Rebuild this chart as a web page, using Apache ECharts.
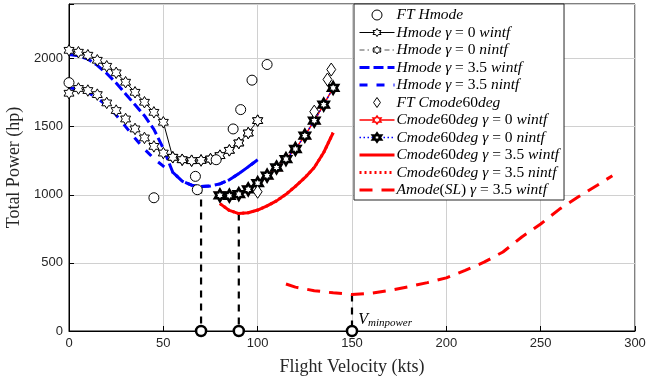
<!DOCTYPE html>
<html>
<head>
<meta charset="utf-8">
<script src="https://cdn.jsdelivr.net/npm/echarts@6/dist/echarts.min.js"></script>
<style>
  html, body { margin: 0; padding: 0; background: #fff; }
  #chart { width: 648px; height: 380px; }
</style>
</head>
<body>
<div id="chart"></div>
<script>
// ---- Flight test / model data (power in hp, speed in kts) ----
const speedH = [0, 5, 10, 15, 20, 25, 30, 35, 40, 45, 50, 55, 60, 65, 70, 75, 80, 85, 90, 95, 100];
const hmodeG0Wintf = [2060, 2046, 2024, 1987, 1943, 1895, 1826, 1752, 1679, 1605, 1532, 1275, 1257, 1250, 1252, 1262, 1287, 1326, 1380, 1453, 1544];
const hmodeG0Nintf = [1745, 1780, 1765, 1735, 1674, 1618, 1556, 1483, 1417, 1355, 1306, 1275, 1257, 1250, 1252, 1262, 1287, 1326, 1380, 1453, 1544];
const hmodeG35Wintf = [2030, 2020, 1995, 1950, 1890, 1820, 1740, 1660, 1580, 1480, 1340, 1165, 1100, 1070, 1060, 1064, 1080, 1110, 1155, 1205, 1257];
const hmodeG35Nintf = [1785, 1775, 1750, 1710, 1655, 1585, 1500, 1415, 1335, 1265, 1210, 1165, 1100, 1070, 1060, 1064, 1080, 1110, 1155, 1205, 1257];

const ftHmodeSpeed = [0, 45, 67, 68, 78, 87, 91, 97, 105];
const ftHmodePower = [1823, 978, 1135, 1037, 1257, 1483, 1625, 1841, 1956];

const ftCmodeSpeed = [100, 130, 137, 139];
const ftCmodePower = [1022, 1610, 1846, 1919];

const speedC = [80, 85, 90, 95, 100, 105, 110, 115, 120, 125, 130, 135, 140];
const cmodeG0 = [995, 993, 1005, 1040, 1085, 1140, 1200, 1262, 1336, 1434, 1544, 1662, 1784];
const cmodeG35 = [935, 885, 862, 868, 888, 918, 955, 1003, 1062, 1125, 1200, 1310, 1455];

const speedA = [115, 120, 130, 140, 150, 160, 170, 180, 190, 200, 210, 220, 230, 240, 250, 260, 270, 280, 288];
const amodeG35 = [345, 322, 296, 280, 268, 277, 298, 325, 355, 390, 445, 505, 580, 690, 785, 895, 985, 1070, 1140];

// minimum-power speeds and the power at those points
const vMinSpeed = [70, 90, 150];
const vMinPower = [1060, 862, 268];

const xTicks = [0, 50, 100, 150, 200, 250, 300];
const yTicks = [0, 500, 1000, 1500, 2000];

// ---- helpers ----
const pairs = (xs, ys) => xs.map((x, i) => [x, ys[i]]);

// six-pointed star outline
const hexagram = (function () {
  const R = 10, r = R / Math.sqrt(3);
  let d = '';
  for (let k = 0; k < 12; k++) {
    const a = (-90 + 30 * k) * Math.PI / 180;
    const rad = k % 2 === 0 ? R : r;
    const x = (rad * Math.cos(a)).toFixed(3), y = (rad * Math.sin(a)).toFixed(3);
    d += (k === 0 ? 'M' : 'L') + x + ' ' + y + ' ';
  }
  return 'path://' + d + 'Z';
})();
// narrow diamond outline
const rhombus = 'path://M0 -7 L4.8 0 L0 7 L-4.8 0 Z';

const SERIF = '"Liberation Serif", "DejaVu Serif", serif';
const SANS = '"Liberation Sans", Arial, sans-serif';

const series = [
  {
    name: 'FT Hmode', type: 'scatter', data: pairs(ftHmodeSpeed, ftHmodePower),
    symbol: 'circle', symbolSize: 10,
    itemStyle: { color: '#fff', borderColor: '#000', borderWidth: 1, opacity: 1 }, z: 5
  },
  {
    name: 'Hmode γ = 0 wintf', type: 'line', data: pairs(speedH, hmodeG0Wintf),
    symbol: hexagram, symbolSize: 11.5, symbolKeepAspect: true, showAllSymbol: true,
    lineStyle: { color: '#000', width: 1, type: 'solid' },
    itemStyle: { color: '#fff', borderColor: '#000', borderWidth: 1 }, z: 4
  },
  {
    name: 'Hmode γ = 0 nintf', type: 'line', data: pairs(speedH, hmodeG0Nintf),
    symbol: hexagram, symbolSize: 11.5, symbolKeepAspect: true, showAllSymbol: true,
    lineStyle: { color: '#555', width: 1, type: [5, 3, 1.5, 3] },
    itemStyle: { color: '#fff', borderColor: '#000', borderWidth: 1 }, z: 4
  },
  {
    name: 'Hmode γ = 3.5 wintf', type: 'line', data: pairs(speedH, hmodeG35Wintf),
    symbol: 'none', lineStyle: { color: '#0000ff', width: 3, type: [10, 4] }, z: 3
  },
  {
    name: 'Hmode γ = 3.5 nintf', type: 'line', data: pairs(speedH, hmodeG35Nintf),
    symbol: 'none', lineStyle: { color: '#0000ff', width: 3, type: [8, 9] }, z: 3
  },
  {
    name: 'FT Cmode60deg', type: 'scatter', data: pairs(ftCmodeSpeed, ftCmodePower),
    symbol: rhombus, symbolSize: 13, symbolKeepAspect: true,
    itemStyle: { color: '#fff', borderColor: '#000', borderWidth: 1, opacity: 1 }, z: 5
  },
  {
    name: 'Cmode60deg γ = 0 wintf', type: 'line', data: pairs(speedC, cmodeG0),
    symbol: hexagram, symbolSize: 11.5, symbolKeepAspect: true, showAllSymbol: true,
    lineStyle: { color: '#ff0000', width: 1.5, type: 'solid' },
    itemStyle: { color: '#fff', borderColor: '#ff0000', borderWidth: 1.5 }, z: 4
  },
  {
    name: 'Cmode60deg γ = 0 nintf', type: 'line', data: pairs(speedC, cmodeG0),
    symbol: hexagram, symbolSize: 11.5, symbolKeepAspect: true, showAllSymbol: true,
    lineStyle: { color: '#0000ff', width: 1.5, type: [1.5, 2.5] },
    itemStyle: { color: '#fff', borderColor: '#000', borderWidth: 2.6 }, z: 4
  },
  {
    name: 'Cmode60deg γ = 3.5 wintf', type: 'line', data: pairs(speedC, cmodeG35),
    symbol: 'none', lineStyle: { color: '#ff0000', width: 3, type: 'solid' }, z: 3
  },
  {
    name: 'Cmode60deg γ = 3.5 nintf', type: 'line', data: pairs(speedC, cmodeG35),
    symbol: 'none', lineStyle: { color: '#ff0000', width: 3, type: [2, 3] }, z: 3
  },
  {
    name: 'Amode(SL) γ = 3.5 wintf', type: 'line', data: pairs(speedA, amodeG35),
    symbol: 'none', lineStyle: { color: '#ff0000', width: 3, type: [13, 9] }, z: 3
  }
];

// legend entries: line-only series get no marker in their key; keys keep the series line weight
const legendData = series.map(s => {
  const item = { name: s.name };
  if (s.lineStyle) item.lineStyle = { width: s.lineStyle.width };
  if (s.symbol === 'none') item.itemStyle = { opacity: 0 };
  else if (s.itemStyle) item.itemStyle = { borderWidth: s.itemStyle.borderWidth };
  return item;
});

// dashed drop lines from each minimum-power point down to the speed axis
vMinSpeed.forEach((v, i) => {
  series.push({
    type: 'line', silent: true, z: 2, symbol: 'none',
    lineStyle: { color: '#000', width: 2.2, type: [7, 6] },
    data: [[v, vMinPower[i]], [v, 0]]
  });
});

// minimum-power speed markers on the speed axis
series.push({
  type: 'scatter', silent: true, clip: false, z: 6,
  symbol: 'circle', symbolSize: 10,
  itemStyle: { color: '#fff', borderColor: '#000', borderWidth: 2.5, opacity: 1 },
  data: vMinSpeed.map((v, i) => ({
    value: [v, 0],
    label: i === vMinSpeed.length - 1 ? {
      show: true, position: 'right', distance: 0, offset: [0, -11],
      formatter: '{v|V}{s|minpower}',
      rich: {
        v: { fontFamily: SERIF, fontStyle: 'italic', fontSize: 16, color: '#000' },
        s: { fontFamily: SERIF, fontStyle: 'italic', fontSize: 11, color: '#000', verticalAlign: 'bottom', padding: [6, 0, 0, 0] }
      }
    } : { show: false }
  }))
});

const chart = echarts.init(document.getElementById('chart'), null, { renderer: 'canvas' });
chart.setOption({
  animation: false,
  backgroundColor: '#fff',
  grid: {
    left: 69, top: 4, right: 13, bottom: 49,
    show: true, borderColor: '#000', borderWidth: 1, backgroundColor: 'transparent',
    containLabel: false, outerBoundsMode: 'none'
  },
  xAxis: {
    type: 'value', min: xTicks[0], max: xTicks[xTicks.length - 1], interval: 50,
    name: 'Flight Velocity (kts)', nameLocation: 'middle', nameGap: 27,
    nameTextStyle: { fontFamily: SERIF, fontSize: 18, color: '#262626' },
    axisLine: { show: true, onZero: false, lineStyle: { color: '#000', width: 1 } },
    axisTick: { show: true, inside: true, length: 5, lineStyle: { color: '#000' } },
    axisLabel: { fontFamily: SANS, fontSize: 13, color: '#262626', margin: 6 },
    splitLine: { show: true, lineStyle: { color: '#d0d0d0', width: 1 } }
  },
  yAxis: {
    type: 'value', min: yTicks[0], max: 2400, interval: 500,
    name: 'Total Power (hp)', nameLocation: 'middle', nameGap: 38,
    nameTextStyle: { fontFamily: SERIF, fontSize: 18, color: '#262626' },
    axisLine: { show: true, lineStyle: { color: '#000', width: 1 } },
    axisTick: { show: true, inside: true, length: 5, lineStyle: { color: '#000' } },
    axisLabel: {
      fontFamily: SANS, fontSize: 13, color: '#262626', margin: 6,
      formatter: v => (yTicks.indexOf(v) >= 0 ? String(v) : '')
    },
    splitLine: { show: true, lineStyle: { color: '#d0d0d0', width: 1 } }
  },
  legend: {
    orient: 'vertical', left: 354, top: 4,
    backgroundColor: '#fff', borderColor: '#262626', borderWidth: 1,
    padding: [3, 5, 2, 4],
    itemWidth: 35, itemHeight: 10, itemGap: 1.5,
    selectedMode: false,
    data: legendData,
    formatter: name => name.replace(/[A-Za-zγ]+/g, m => '{i|' + m + '}'),
    textStyle: {
      fontFamily: SERIF, fontSize: 15.5, color: '#000', lineHeight: 15, padding: [0, 0, 0, -3],
      rich: {
        i: { fontFamily: SERIF, fontStyle: 'italic', fontSize: 15.5, color: '#000', lineHeight: 15 }
      }
    }
  },
  series: series
});
</script>
</body>
</html>
